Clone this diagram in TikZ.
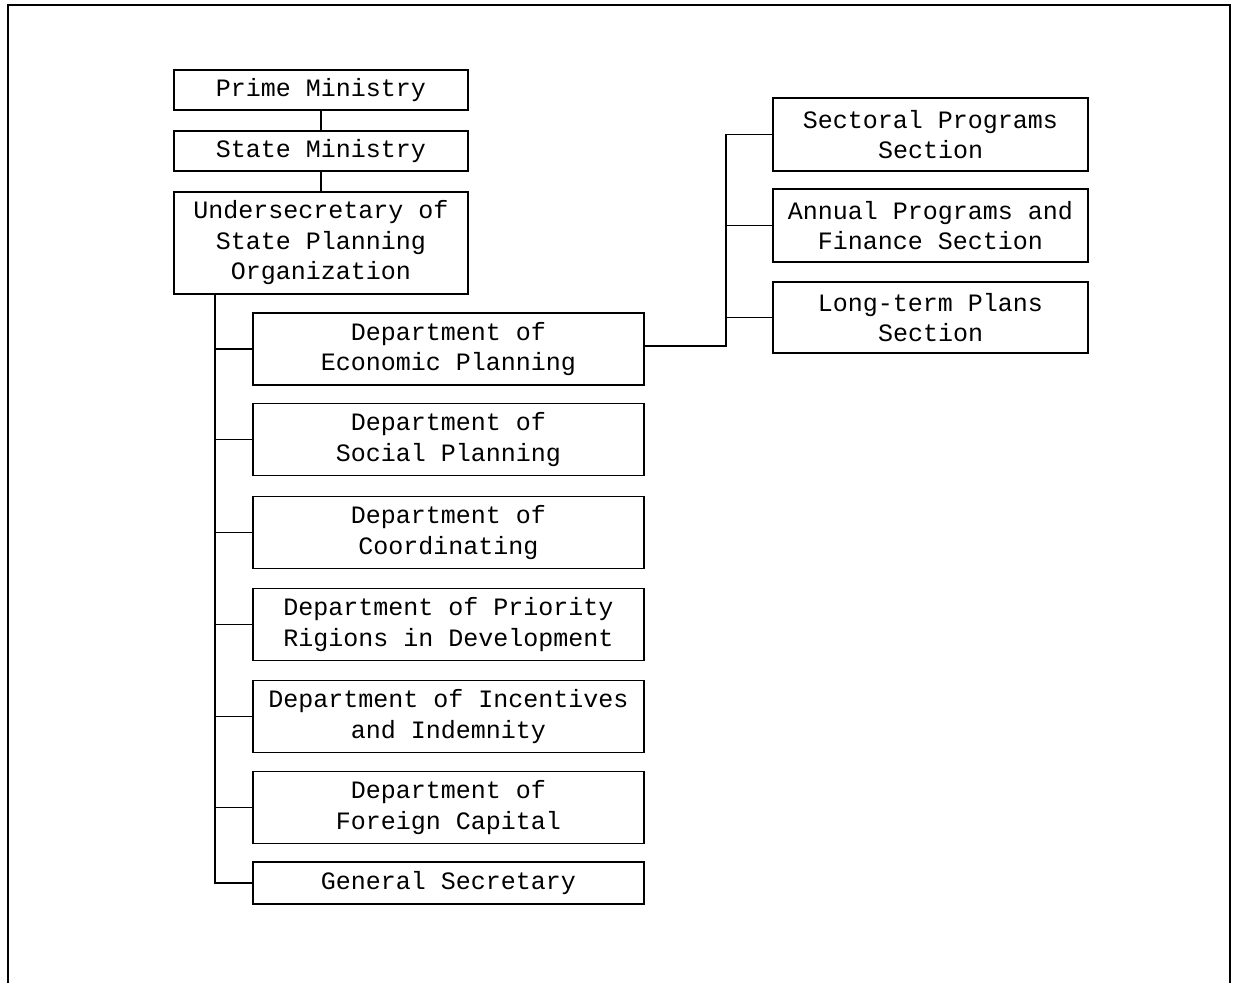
\documentclass[tikz,border=0pt]{standalone}
\usepackage{fontspec}
\newfontfamily\typewriter{Liberation Mono}
\begin{document}
\begin{tikzpicture}[x=1pt,y=-1pt,
  unit/.style={draw, line width=1.6pt, rectangle, inner sep=0pt, align=center,
    font=\typewriter\fontsize{25}{30.5}\selectfont},
  link/.style={line width=1.4pt}]
\useasboundingbox (0,0) rectangle (1234,983);
% open frame around the chart
\draw[line width=2pt] (8,983) -- (8,5) -- (1230,5) -- (1230,983);

% top of the hierarchy
\node[unit, minimum width=294pt, minimum height=40pt] (prime) at (321,90) {Prime Ministry};
\node[unit, minimum width=294pt, minimum height=40pt] (state) at (321,151) {State Ministry};
\node[unit, minimum width=294pt, minimum height=102pt] (under) at (321,243)
  {Undersecretary of\\State Planning\\Organization};

% departments
\node[unit, minimum width=391pt, minimum height=72pt] (econ) at (448.5,349) {Department of\\Economic Planning};
\node[unit, minimum width=391pt, minimum height=72pt] (social) at (448.5,439.5) {Department of\\Social Planning};
\node[unit, minimum width=391pt, minimum height=72pt] (coord) at (448.5,532.5) {Department of\\Coordinating};
\node[unit, minimum width=391pt, minimum height=72pt] (prior) at (448.5,624.5) {Department of Priority\\Rigions in Development};
\node[unit, minimum width=391pt, minimum height=72pt] (incent) at (448.5,716.5) {Department of Incentives\\and Indemnity};
\node[unit, minimum width=391pt, minimum height=72pt] (foreign) at (448.5,807.5) {Department of\\Foreign Capital};
\node[unit, minimum width=391pt, minimum height=42pt] (general) at (448.5,883) {General Secretary};

% sections of economic planning
\node[unit, minimum width=315pt, minimum height=73pt] (sector) at (930.5,134.5) {Sectoral Programs\\Section};
\node[unit, minimum width=315pt, minimum height=73pt] (annual) at (930.5,225.5) {Annual Programs and\\Finance Section};
\node[unit, minimum width=315pt, minimum height=71pt] (longterm) at (930.5,317.5) {Long-term Plans\\Section};

% vertical chain
\draw[link] (prime.south) -- (state.north);
\draw[link] (state.south) -- (under.north);

% trunk to departments
\coordinate (trunktop) at (215,294);
\draw[link] (trunktop) |- (general.west);
\foreach \d in {econ,social,coord,prior,incent,foreign}
  \draw[link] (215,0 |- \d.west) -- (\d.west);

% economic planning to its sections
\coordinate (fork) at (726,346);
\draw[link] (econ.east |- fork) -- (fork) |- (sector.west);
\draw[link] (fork |- annual.west) -- (annual.west);
\draw[link] (fork |- longterm.west) -- (longterm.west);
\end{tikzpicture}
\end{document}
